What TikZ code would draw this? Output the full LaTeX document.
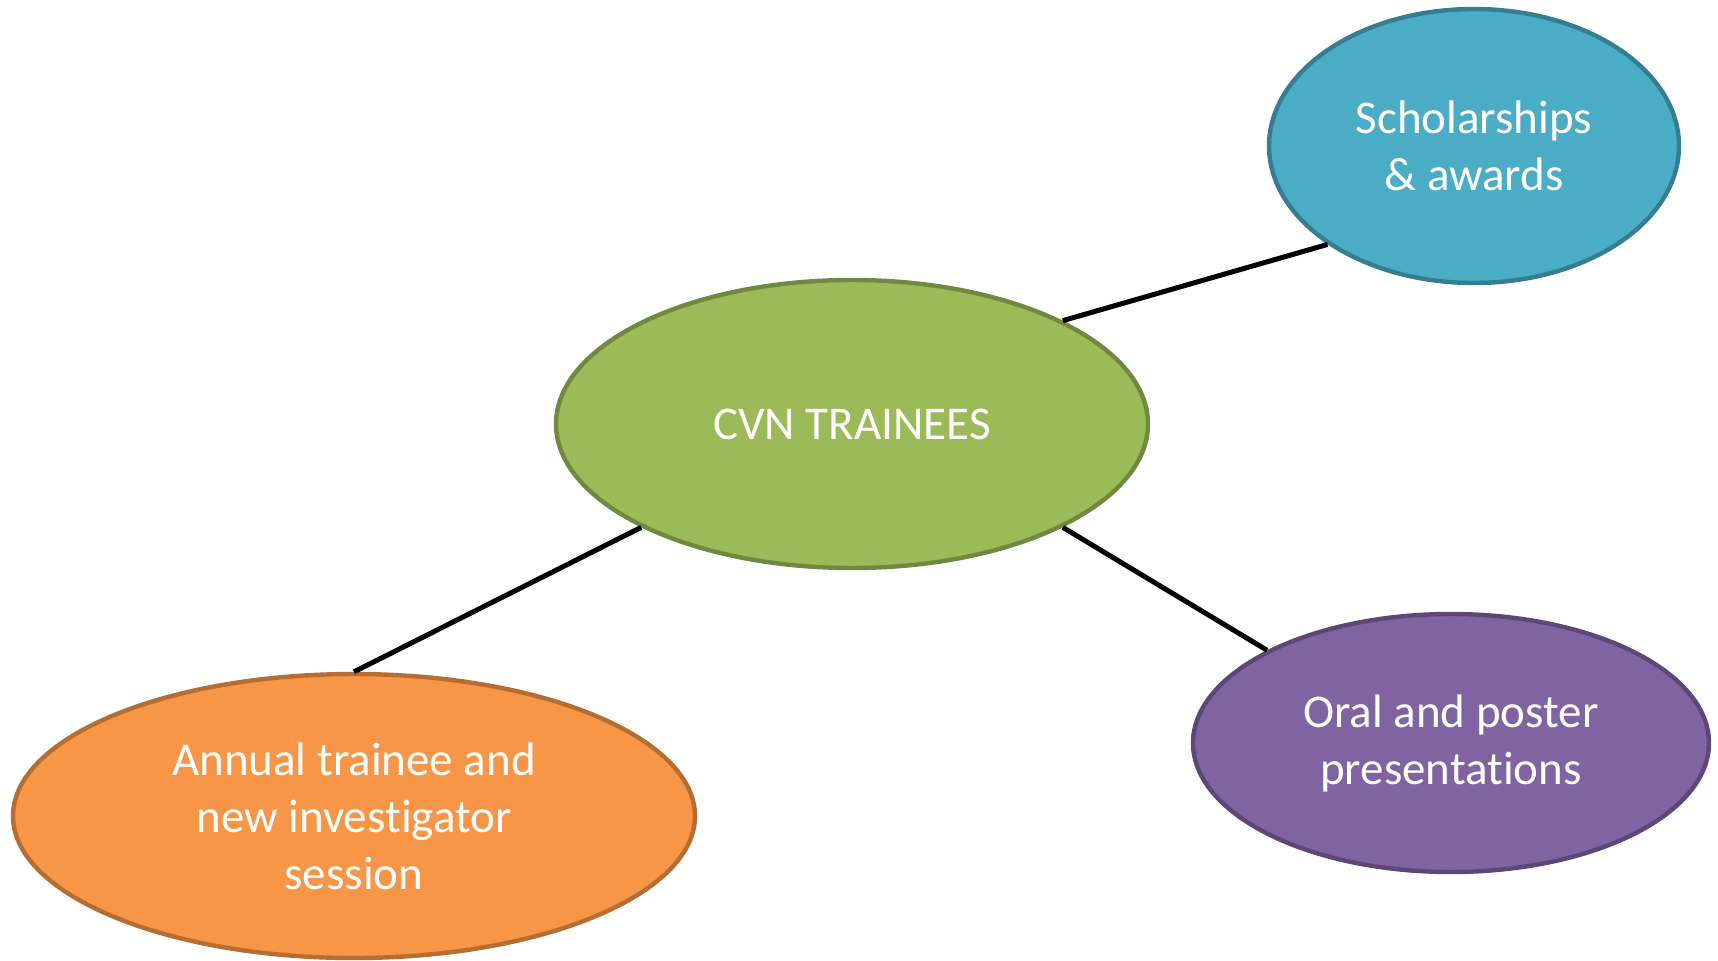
\documentclass[tikz,border=0pt]{standalone}
\usepackage{fontspec}
\setmainfont{Carlito}[Ligatures=NoCommon]
\usepackage{tikz}
\usetikzlibrary{shapes.geometric,shadows}

\definecolor{cvngreen}{HTML}{9BBB59}
\definecolor{cvngreenline}{HTML}{71893F}
\definecolor{awardblue}{HTML}{4BACC6}
\definecolor{awardblueline}{HTML}{357D91}
\definecolor{talkpurple}{HTML}{8064A2}
\definecolor{talkpurpleline}{HTML}{5C4776}
\definecolor{sessorange}{HTML}{F79646}
\definecolor{sessorangeline}{HTML}{B66D31}

\begin{document}
\begin{tikzpicture}[x=0.5pt,y=-0.5pt,
    bubble/.style={ellipse,line width=2.2pt,inner sep=0pt,text=white,align=center,
      font=\fontsize{23.5}{28.5}\selectfont},
    every edge/.append style={line width=2.5pt,black,
      drop shadow={shadow xshift=1pt,shadow yshift=-1pt,opacity=0.25}}]

  \useasboundingbox (0,0) rectangle (1718,960);

  \node[bubble,fill=cvngreen,draw=cvngreenline,minimum width=296pt,minimum height=144pt]
        (cvn) at (852,424) {CVN TRAINEES};
  \node[bubble,fill=awardblue,draw=awardblueline,minimum width=205pt,minimum height=137pt]
        (awards) at (1474,146) {Scholarships\\\& awards};
  \node[bubble,fill=talkpurple,draw=talkpurpleline,minimum width=258pt,minimum height=129pt]
        (talks) at (1451,743) {Oral and poster\\presentations};
  \node[bubble,fill=sessorange,draw=sessorangeline,minimum width=341pt,minimum height=142pt]
        (session) at (354,816) {Annual trainee and\\new investigator\\session};

  \path (cvn.north east) edge (awards.south west)
        (cvn.south east) edge (talks.north west)
        (cvn.south west) edge (session.north);

\end{tikzpicture}
\end{document}
